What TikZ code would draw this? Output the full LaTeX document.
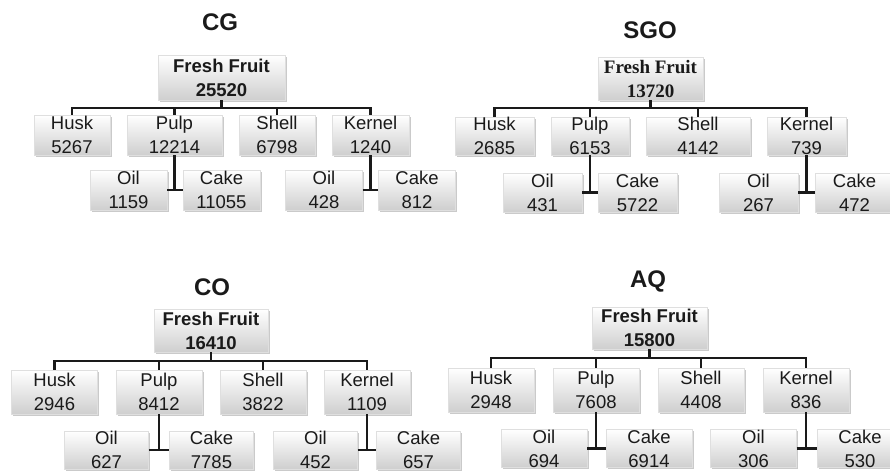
\documentclass[tikz,border=0pt]{standalone}
\usepackage{fontspec}
\setmainfont{Liberation Sans}
\newfontfamily\serifbf{Liberation Serif}
\usepackage{xcolor}
\definecolor{ink}{HTML}{1A1A1A}
\usetikzlibrary{shadows}

\begin{document}
\begin{tikzpicture}[
  x=1pt, y=-1pt,
  part/.style={rectangle, draw=gray!25, line width=0.4pt, top color=white, bottom color=gray!38, drop shadow={shadow xshift=1.5pt, shadow yshift=-1.5pt, opacity=0.35, fill=black!60}, text=ink, align=center, inner sep=0pt, font=\fontsize{18.5}{24}\selectfont},
  root/.style={part, font=\bfseries\fontsize{18.5}{24}\selectfont},
  title/.style={font=\bfseries\fontsize{24}{26}\selectfont, text=ink},
  link/.style={draw=ink, line width=2.4pt}
]
  \useasboundingbox (0,0) rectangle (890,472);

  % CG
  \node[title] (cg) at (220,22) {CG};
  \node[root, minimum width=127, minimum height=45] (cg-ff) at (221.5,77.5) {Fresh Fruit\\25520};
  \foreach \n/\x/\w/\txt in {husk/72/76/{Husk\\5267}, pulp/174.5/95/{Pulp\\12214}, shell/277/76/{Shell\\6798}, kernel/370.5/77/{Kernel\\1240}}
    \node[part, minimum width=\w, minimum height=40] (cg-\n) at (\x,135) {\txt};
  \foreach \n/\x/\txt in {oil1/128.5/{Oil\\1159}, cake1/221.5/{Cake\\11055}, oil2/324/{Oil\\428}, cake2/417/{Cake\\812}}
    \node[part, minimum width=77, minimum height=40] (cg-\n) at (\x,190) {\txt};
  \foreach \n in {husk,pulp,shell,kernel}
    \draw[link] (cg-ff.south) -- ++(0,8) -| (cg-\n.north);
  \draw[link] (cg-pulp.south) -- (cg-pulp.south |- cg-oil1.east);
  \draw[link] (cg-oil1.east) -- (cg-cake1.west);
  \draw[link] (cg-kernel.south) -- (cg-kernel.south |- cg-oil2.east);
  \draw[link] (cg-oil2.east) -- (cg-cake2.west);

  % SGO
  \node[title] (sgo) at (650,30) {SGO};
  \node[root, font=\serifbf\bfseries\fontsize{19}{24}\selectfont, minimum width=105, minimum height=43] (sgo-ff) at (650.5,78.5) {Fresh Fruit\\13720};
  \foreach \n/\x/\w/\txt in {husk/494.5/79/{Husk\\2685}, pulp/590/78/{Pulp\\6153}, shell/698/104/{Shell\\4142}, kernel/806.5/79/{Kernel\\739}}
    \node[part, minimum width=\w, minimum height=38] (sgo-\n) at (\x,136) {\txt};
  \foreach \n/\x/\txt in {oil1/542.5/{Oil\\431}, cake1/637.5/{Cake\\5722}, oil2/758.5/{Oil\\267}, cake2/854.5/{Cake\\472}}
    \node[part, minimum width=79, minimum height=39] (sgo-\n) at (\x,192.5) {\txt};
  \foreach \n in {husk,pulp,shell,kernel}
    \draw[link] (sgo-ff.south) -- ++(0,8) -| (sgo-\n.north);
  \draw[link] (sgo-pulp.south) -- (sgo-pulp.south |- sgo-oil1.east);
  \draw[link] (sgo-oil1.east) -- (sgo-cake1.west);
  \draw[link] (sgo-kernel.south) -- (sgo-kernel.south |- sgo-oil2.east);
  \draw[link] (sgo-oil2.east) -- (sgo-cake2.west);

  % CO
  \node[title] (co) at (212,287) {CO};
  \node[root, minimum width=114, minimum height=43] (co-ff) at (211,330.5) {Fresh Fruit\\16410};
  \foreach \n/\x/\txt in {husk/54.5/{Husk\\2946}, pulp/159/{Pulp\\8412}, shell/263/{Shell\\3822}, kernel/367/{Kernel\\1109}}
    \node[part, minimum width=86, minimum height=44] (co-\n) at (\x,392) {\txt};
  \foreach \n/\x/\txt in {oil1/106.5/{Oil\\627}, cake1/211.5/{Cake\\7785}, oil2/315.5/{Oil\\452}, cake2/418.5/{Cake\\657}}
    \node[part, minimum width=84, minimum height=38] (co-\n) at (\x,450) {\txt};
  \foreach \n in {husk,pulp,shell,kernel}
    \draw[link] (co-ff.south) -- ++(0,8.5) -| (co-\n.north);
  \draw[link] (co-pulp.south) -- (co-pulp.south |- co-oil1.east);
  \draw[link] (co-oil1.east) -- (co-cake1.west);
  \draw[link] (co-kernel.south) -- (co-kernel.south |- co-oil2.east);
  \draw[link] (co-oil2.east) -- (co-cake2.west);

  % AQ
  \node[title] (aq) at (648,281) {AQ};
  \node[root, minimum width=115, minimum height=42] (aq-ff) at (649.5,328) {Fresh Fruit\\15800};
  \foreach \n/\x/\txt in {husk/491/{Husk\\2948}, pulp/596/{Pulp\\7608}, shell/701/{Shell\\4408}, kernel/806/{Kernel\\836}}
    \node[part, minimum width=86, minimum height=44] (aq-\n) at (\x,390) {\txt};
  \foreach \n/\x/\txt in {oil1/544/{Oil\\694}, cake1/649/{Cake\\6914}, oil2/753.5/{Oil\\306}, cake2/860/{Cake\\530}}
    \node[part, minimum width=86, minimum height=38] (aq-\n) at (\x,448.5) {\txt};
  \foreach \n in {husk,pulp,shell,kernel}
    \draw[link] (aq-ff.south) -- ++(0,8.5) -| (aq-\n.north);
  \draw[link] (aq-pulp.south) -- (aq-pulp.south |- aq-oil1.east);
  \draw[link] (aq-oil1.east) -- (aq-cake1.west);
  \draw[link] (aq-kernel.south) -- (aq-kernel.south |- aq-oil2.east);
  \draw[link] (aq-oil2.east) -- (aq-cake2.west);
\end{tikzpicture}
\end{document}
